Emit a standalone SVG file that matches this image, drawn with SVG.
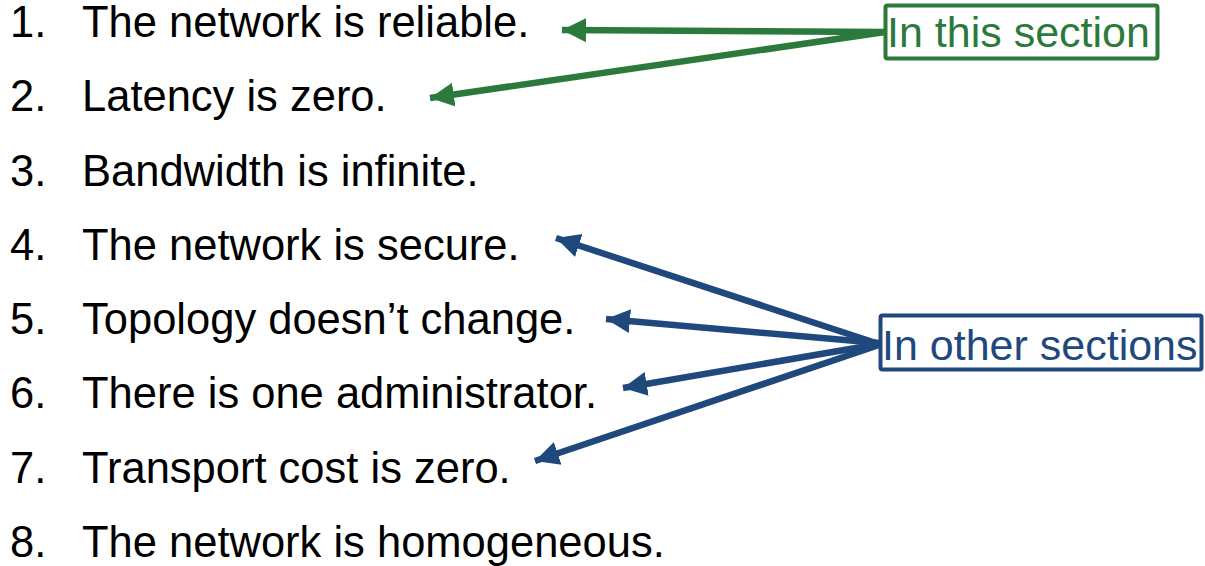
<svg xmlns="http://www.w3.org/2000/svg" width="1205" height="566" viewBox="0 0 1205 566">
  <style>
    .item { font-family: "Liberation Sans", Arial, sans-serif; font-size: 43.5px; fill: #000; }
    .tag { font-family: "Liberation Sans", Arial, sans-serif; font-size: 43px; }
    .green { fill: #2B7A3B; }
    .blue { fill: #1F497D; }
    .box { fill: #fff; stroke-width: 4; }
    .box.g { stroke: #2B7A3B; }
    .box.b { stroke: #1F497D; }
    .link { fill: none; stroke-width: 6.5; }
    .link.g { stroke: #2B7A3B; marker-end: url(#headG); }
    .link.b { stroke: #1F497D; marker-end: url(#headB); }
  </style>
  <defs>
    <marker id="headG" markerUnits="userSpaceOnUse" markerWidth="28" markerHeight="28" viewBox="0 0 28 28" refX="24" refY="14" orient="auto">
      <path d="M0,2 L24,14 L0,26 Z" fill="#2B7A3B"/>
    </marker>
    <marker id="headB" markerUnits="userSpaceOnUse" markerWidth="28" markerHeight="28" viewBox="0 0 28 28" refX="24" refY="14" orient="auto">
      <path d="M0,2 L24,14 L0,26 Z" fill="#1F497D"/>
    </marker>
  </defs>

  <rect width="1205" height="566" fill="#fff"/>

  <!-- the numbered list -->
  <g id="list">
    <g id="item1"><text class="item" x="10" y="37">1.</text><text class="item" x="82" y="37">The network is reliable.</text></g>
    <g id="item2"><text class="item" x="10" y="111">2.</text><text class="item" x="82" y="111">Latency is zero.</text></g>
    <g id="item3"><text class="item" x="10" y="186">3.</text><text class="item" x="82" y="186">Bandwidth is infinite.</text></g>
    <g id="item4"><text class="item" x="10" y="260">4.</text><text class="item" x="82" y="260">The network is secure.</text></g>
    <g id="item5"><text class="item" x="10" y="334">5.</text><text class="item" x="82" y="334">Topology doesn’t change.</text></g>
    <g id="item6"><text class="item" x="10" y="408">6.</text><text class="item" x="82" y="408">There is one administrator.</text></g>
    <g id="item7"><text class="item" x="10" y="483">7.</text><text class="item" x="82" y="483">Transport cost is zero.</text></g>
    <g id="item8"><text class="item" x="10" y="557">8.</text><text class="item" x="82" y="557">The network is homogeneous.</text></g>
  </g>

  <!-- connectors from the two labels to the list items -->
  <g id="connectors">
    <line class="link g" x1="885" y1="32" x2="562" y2="30"/>
    <line class="link g" x1="885" y1="32" x2="430" y2="98"/>
    <line class="link b" x1="879" y1="344" x2="556" y2="238"/>
    <line class="link b" x1="879" y1="343" x2="606" y2="319"/>
    <line class="link b" x1="879" y1="344" x2="623" y2="388"/>
    <line class="link b" x1="879" y1="345" x2="535" y2="461"/>
  </g>

  <g id="this-section">
    <rect class="box g" x="885.5" y="5.5" width="272" height="53" rx="2"/>
    <text class="tag green" x="887" y="47">In this section</text>
  </g>

  <g id="other-sections">
    <rect class="box b" x="880.5" y="315.5" width="321" height="54" rx="2"/>
    <text class="tag blue" x="882" y="360">In other sections</text>
  </g>
</svg>
